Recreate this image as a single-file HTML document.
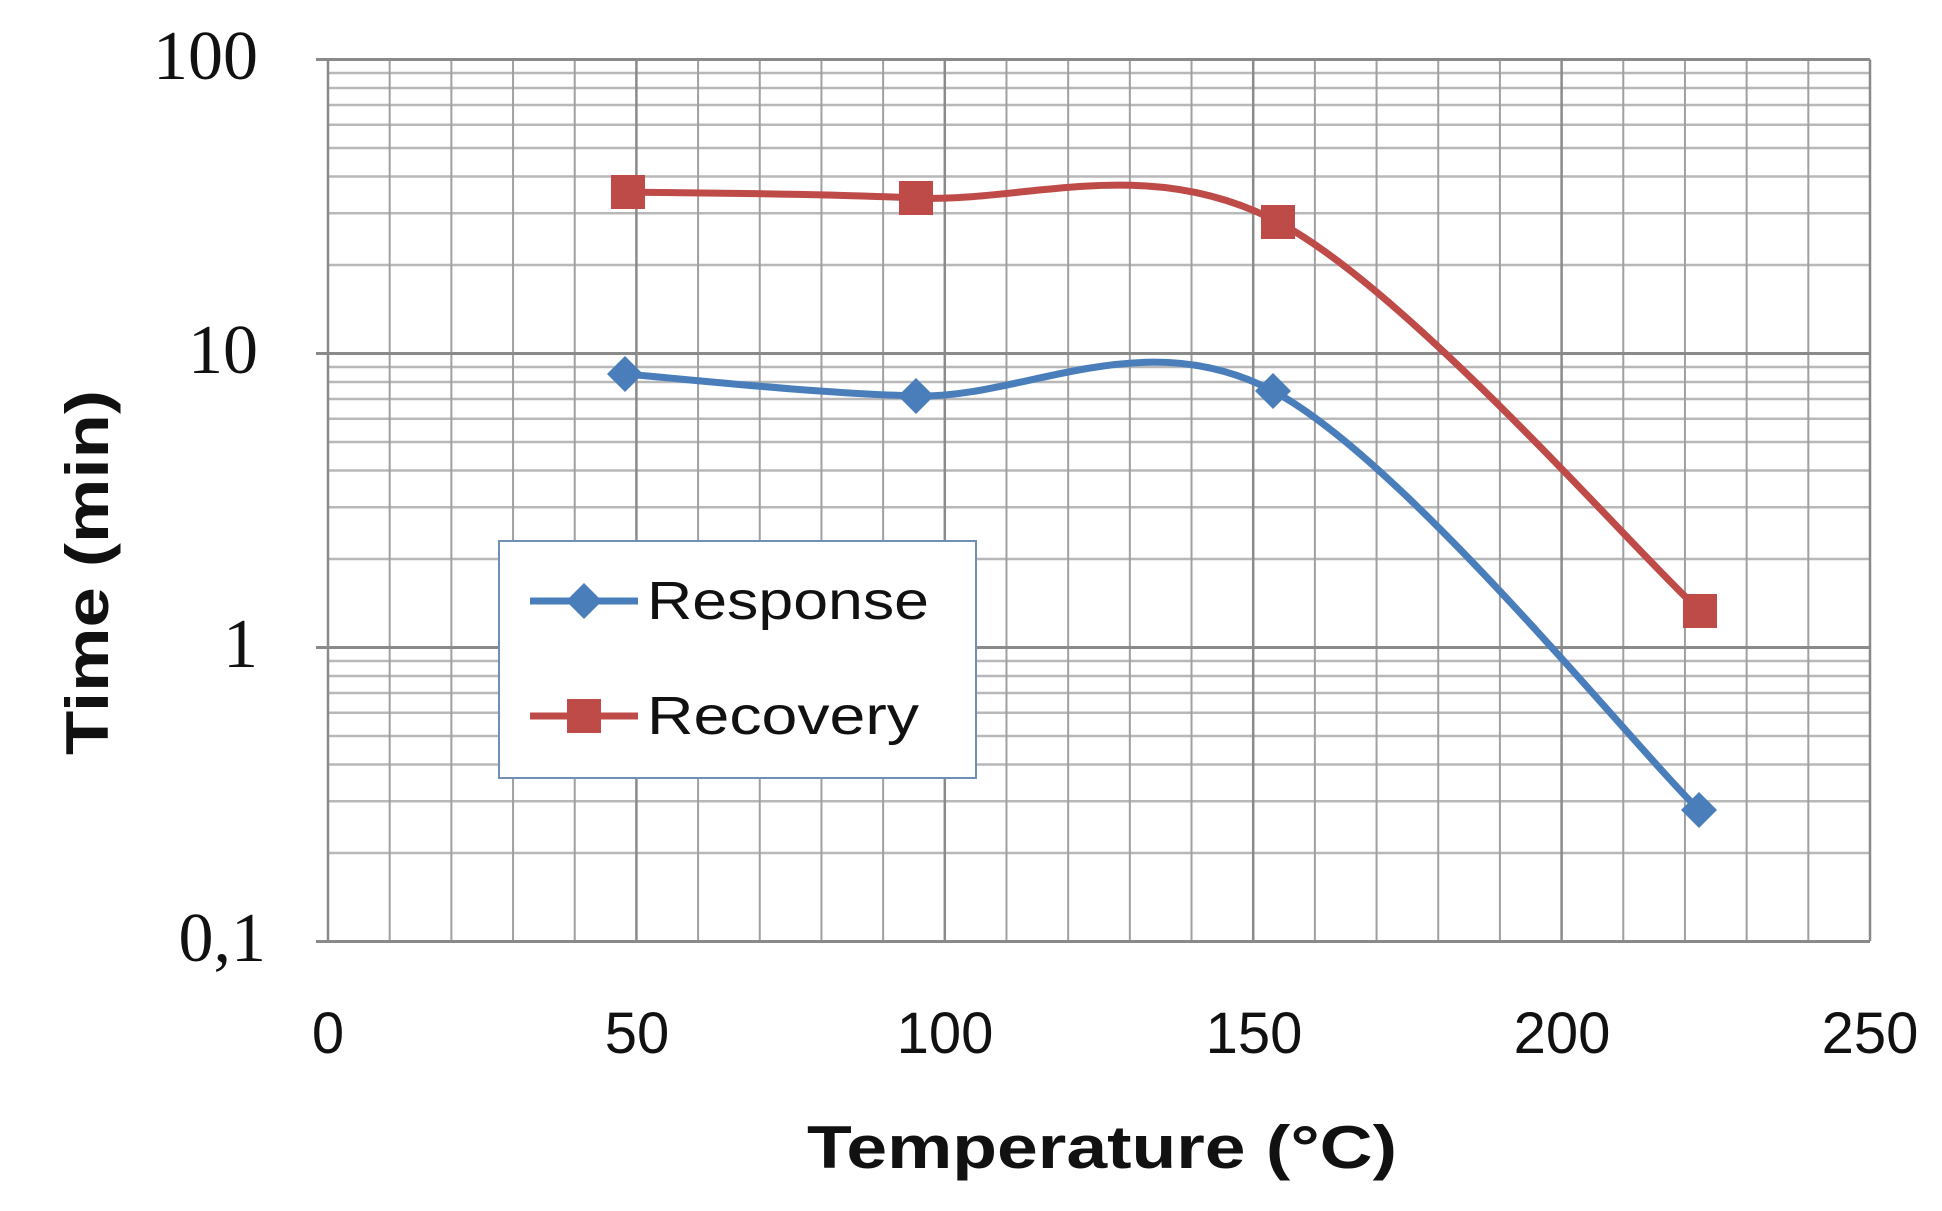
<!DOCTYPE html>
<html><head><meta charset="utf-8"><style>html,body{margin:0;padding:0;background:#fff}svg{display:block}</style></head>
<body>
<svg width="1942" height="1211" viewBox="0 0 1942 1211" xmlns="http://www.w3.org/2000/svg">
<rect width="1942" height="1211" fill="#fff"/>
<g id="grid" stroke-width="2" fill="none">
</g>
<script>
(function(){
var g=document.getElementById('grid'),ns='http://www.w3.org/2000/svg';
function L(x1,y1,x2,y2,c,w){var l=document.createElementNS(ns,'line');l.setAttribute('x1',x1);l.setAttribute('y1',y1);l.setAttribute('x2',x2);l.setAttribute('y2',y2);l.setAttribute('stroke',c);l.setAttribute('stroke-width',w);g.appendChild(l);}
var x0=328,x1=1870,y0=59.5,dec=294;
for(var d=0;d<3;d++){for(var k=2;k<=9;k++){var y=y0+d*dec+(1-Math.log10(k))*dec;L(x0,y,x1,y,'#b8b8b8',2.5);}}
for(var i=0;i<=25;i++){var x=x0+i*(x1-x0)/25;L(x,y0,x,941,(i%5==0)?'#8a8a8a':'#a0a0a0',(i%5==0)?2.5:2);}
for(var d=0;d<=3;d++){var y=y0+d*dec;L(x0-12,y,x1,y,'#8a8a8a',3);}
})();
</script>
<g fill="none" stroke-width="7" stroke-linejoin="round">
<path d="M625,374 C673.5,377.7 808,393 916,396 C1024,398.8 1142.5,322 1273,391 C1403.5,460 1628,740 1699,810" stroke="#4a7ebb"/>
<path d="M628,192 C676,193 808,193 916,198 C1024,203 1147,153 1278,222 C1408.7,290.8 1629.7,546 1700,611" stroke="#be4b48"/>
</g>
<g fill="#4a7ebb">
<polygon points="625,356 643,374 625,392 607,374"/>
<polygon points="916,378 934,396 916,414 898,396"/>
<polygon points="1273,373 1291,391 1273,409 1255,391"/>
<polygon points="1699,792 1717,810 1699,828 1681,810"/>
</g>
<g fill="#be4b48">
<rect x="611" y="175" width="34" height="34"/>
<rect x="899" y="181" width="34" height="34"/>
<rect x="1261" y="205" width="34" height="34"/>
<rect x="1683" y="594" width="34" height="34"/>
</g>
<rect x="499" y="541" width="477" height="237" fill="#fff" stroke="#6f8fb5" stroke-width="2"/>
<line x1="530" y1="601" x2="638" y2="601" stroke="#4a7ebb" stroke-width="7"/>
<polygon points="584,583 602,601 584,619 566,601" fill="#4a7ebb"/>
<line x1="530" y1="716" x2="638" y2="716" stroke="#be4b48" stroke-width="7"/>
<rect x="567" y="699" width="34" height="34" fill="#be4b48"/>
<g font-family="Liberation Sans, sans-serif" font-size="54" fill="#111">
<text x="647" y="619" textLength="282" lengthAdjust="spacingAndGlyphs">Response</text>
<text x="647" y="734" textLength="272" lengthAdjust="spacingAndGlyphs">Recovery</text>
</g>
<g font-family="Liberation Serif, serif" font-size="70" fill="#111" text-anchor="end">
<text x="258" y="79">100</text>
<text x="258" y="373">10</text>
<text x="258" y="667">1</text>
<text x="266" y="961">0,1</text>
</g>
<g font-family="Liberation Sans, sans-serif" font-size="58" fill="#111" text-anchor="middle">
<text x="328" y="1053">0</text>
<text x="637" y="1053">50</text>
<text x="945" y="1053">100</text>
<text x="1254" y="1053">150</text>
<text x="1562" y="1053">200</text>
<text x="1870" y="1053">250</text>
</g>
<text x="807" y="1168" font-family="Liberation Sans, sans-serif" font-weight="bold" font-size="60" fill="#111" textLength="590" lengthAdjust="spacingAndGlyphs">Temperature (°C)</text>
<text transform="translate(108,755) rotate(-90)" font-family="Liberation Sans, sans-serif" font-weight="bold" font-size="60" fill="#111" textLength="365" lengthAdjust="spacingAndGlyphs">Time (min)</text>
</svg>
</body></html>
